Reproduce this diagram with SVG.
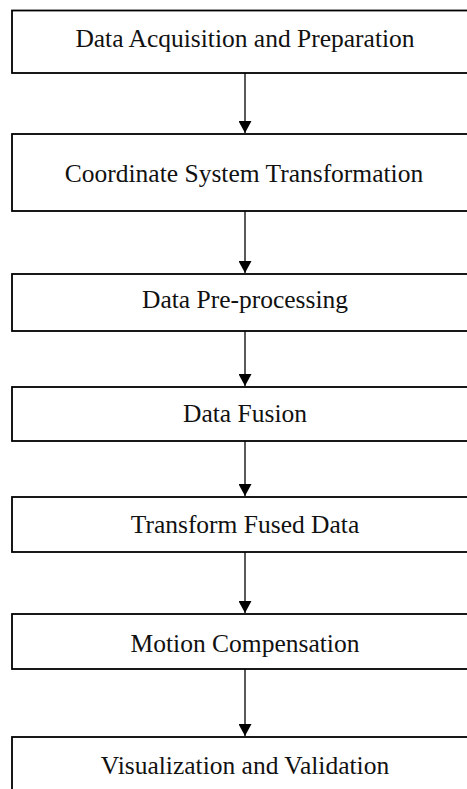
<svg xmlns="http://www.w3.org/2000/svg" width="467" height="789" viewBox="0 0 467 789">
<defs>
<style>
.box{fill:#fff;stroke:#000;stroke-width:1.8}
.lbl{font-family:"Liberation Serif","Times New Roman",serif;font-size:25.5px;fill:#111;text-anchor:middle}
.conn{stroke:#000;stroke-width:1.3;fill:none}
</style>
<marker id="ah" markerUnits="userSpaceOnUse" markerWidth="14" markerHeight="13" refX="12" refY="6.5" orient="auto">
<path d="M0,0 L12,6.5 L0,13 Z" fill="#000"/>
</marker>
</defs>
<rect width="467" height="789" fill="#fff"/>
<g id="connectors">
<line class="conn" x1="245" y1="73" x2="245" y2="133" marker-end="url(#ah)"/>
<line class="conn" x1="245" y1="211" x2="245" y2="273" marker-end="url(#ah)"/>
<line class="conn" x1="245" y1="331" x2="245" y2="386" marker-end="url(#ah)"/>
<line class="conn" x1="245" y1="441" x2="245" y2="496" marker-end="url(#ah)"/>
<line class="conn" x1="245" y1="552" x2="245" y2="613" marker-end="url(#ah)"/>
<line class="conn" x1="245" y1="669" x2="245" y2="736" marker-end="url(#ah)"/>
</g>
<g id="n1"><rect class="box" x="12" y="10.5" width="480" height="62.5"/><text class="lbl" x="245" y="47">Data Acquisition and Preparation</text></g>
<g id="n2"><rect class="box" x="12" y="134" width="480" height="77"/><text class="lbl" x="244" y="181.5">Coordinate System Transformation</text></g>
<g id="n3"><rect class="box" x="12" y="274" width="480" height="57"/><text class="lbl" x="245" y="307.5">Data Pre-processing</text></g>
<g id="n4"><rect class="box" x="12" y="387" width="480" height="54"/><text class="lbl" x="245" y="421.5">Data Fusion</text></g>
<g id="n5"><rect class="box" x="12" y="497" width="480" height="55"/><text class="lbl" x="245" y="533">Transform Fused Data</text></g>
<g id="n6"><rect class="box" x="12" y="614" width="480" height="55"/><text class="lbl" x="245" y="651.5">Motion Compensation</text></g>
<g id="n7"><rect class="box" x="12" y="737" width="480" height="80"/><text class="lbl" x="245" y="774">Visualization and Validation</text></g>
</svg>
